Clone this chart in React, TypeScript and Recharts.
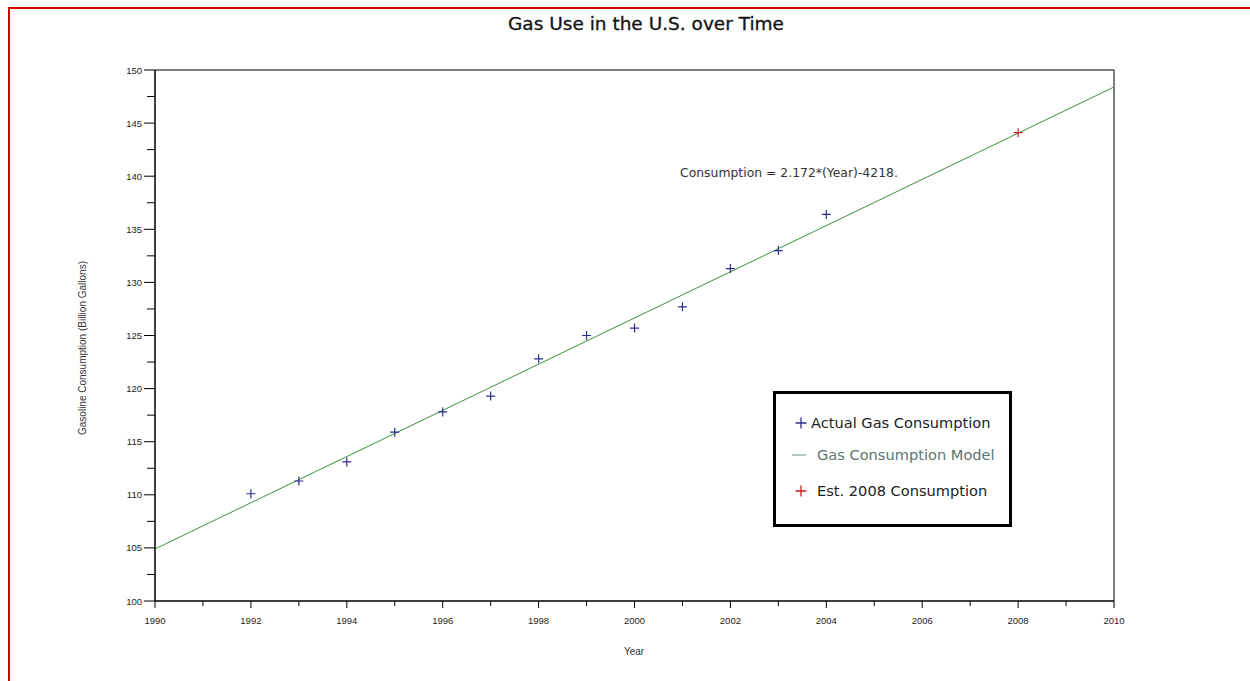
import React from 'react';
import {
  ComposedChart,
  Line,
  Scatter,
  XAxis,
  YAxis,
  ReferenceArea,
} from 'recharts';

// values
const years = [1992, 1993, 1994, 1995, 1996, 1997, 1998, 1999, 2000, 2001, 2002, 2003, 2004];
const consumption = [110.1, 111.3, 113.1, 115.9, 117.8, 119.3, 122.8, 125.0, 125.7, 127.7, 131.3, 133.0, 136.4];
const modelYears = [1990, 2010];
const modelValues = [104.9, 148.4];
const estYear = 2008;
const estValue = 144.1;

const xTicks = Array.from({ length: 21 }, (_, i) => 1990 + i);
const yTicks = Array.from({ length: 21 }, (_, i) => 100 + i * 2.5);

const actualData = years.map((y, i) => ({ year: y, value: consumption[i] }));
const modelData = modelYears.map((y, i) => ({ year: y, value: modelValues[i] }));
const estData = [{ year: estYear, value: estValue }];

const tickFont = '"Liberation Sans", Arial, sans-serif';
const mainFont = '"DejaVu Sans", sans-serif';

const Plus = (color: string) => (props: any) => {
  const { cx, cy } = props;
  if (cx == null || cy == null) return null;
  return (
    <path
      d={`M${cx - 4.5},${cy} H${cx + 4.5} M${cx},${cy - 4.5} V${cy + 4.5}`}
      stroke={color}
      strokeWidth={1.2}
      fill="none"
    />
  );
};

const XTick = (props: any) => {
  const { x, y, payload } = props;
  const major = payload.value % 2 === 0;
  return (
    <g>
      <line x1={x} x2={x} y1={y} y2={y + (major ? 7 : 5)} stroke="#000" strokeWidth={1} />
      {major && (
        <text x={x} y={y + 23} textAnchor="middle" fontSize={9.5} fontFamily={tickFont} fill="#222">
          {payload.value}
        </text>
      )}
    </g>
  );
};

const YTick = (props: any) => {
  const { x, y, payload } = props;
  const major = payload.value % 5 === 0;
  return (
    <g>
      <line x1={x - (major ? 11 : 8)} x2={x} y1={y} y2={y} stroke="#000" strokeWidth={1} />
      {major && (
        <text x={x - 13} y={y + 3.5} textAnchor="end" fontSize={9.5} fontFamily={tickFont} fill="#222">
          {payload.value}
        </text>
      )}
    </g>
  );
};

export default function App() {
  return (
    <div
      style={{
        position: 'fixed',
        left: 8,
        top: 7,
        width: 1260,
        height: 700,
        border: '2px solid #d40000',
        background: '#fff',
      }}
    >
      <div
        style={{
          position: 'absolute',
          left: 0,
          top: 4,
          width: 1272,
          textAlign: 'center',
          fontFamily: mainFont,
          fontSize: 18.5,
          color: '#111',
          WebkitTextStroke: '0.3px #111',
        }}
      >
        Gas Use in the U.S. over Time
      </div>

      <ComposedChart
        width={1240}
        height={680}
        margin={{ top: 61, right: 136, left: 0, bottom: 48 }}
      >
        <XAxis
          type="number"
          dataKey="year"
          domain={[1990, 2010]}
          ticks={xTicks}
          interval={0}
          allowDataOverflow
          tickSize={0}
          tickMargin={0}
          tickLine={false}
          tick={<XTick />}
          axisLine={{ stroke: '#000' }}
          height={40}
        />
        <YAxis
          type="number"
          dataKey="value"
          domain={[100, 150]}
          ticks={yTicks}
          interval={0}
          allowDataOverflow
          tickSize={0}
          tickMargin={0}
          tickLine={false}
          tick={<YTick />}
          axisLine={{ stroke: '#000' }}
          width={145}
        />
        <ReferenceArea x1={1990} x2={2010} y1={100} y2={150} fill="none" stroke="#000" strokeWidth={1} />
        <Line
          data={modelData}
          dataKey="value"
          stroke="#3f8f3f"
          strokeWidth={1}
          dot={false}
          activeDot={false}
          isAnimationActive={false}
        />
        <Scatter data={actualData} dataKey="value" shape={Plus('#2e2e8e')} isAnimationActive={false} />
        <Scatter data={estData} dataKey="value" shape={Plus('#c8202a')} isAnimationActive={false} />
      </ComposedChart>

      <div
        style={{
          position: 'absolute',
          left: 670,
          top: 156,
          fontFamily: mainFont,
          fontSize: 12.4,
          color: '#333',
          whiteSpace: 'nowrap',
        }}
      >
        Consumption = 2.172*(Year)-4218.
      </div>

      <div
        style={{
          position: 'absolute',
          left: 72,
          top: 339,
          width: 0,
          height: 0,
        }}
      >
        <div
          style={{
            position: 'absolute',
            transform: 'translate(-50%, -50%) rotate(-90deg)',
            fontFamily: tickFont,
            fontSize: 10,
            color: '#333',
            whiteSpace: 'nowrap',
          }}
        >
          Gasoline Consumption (Billion Gallons)
        </div>
      </div>

      <div
        style={{
          position: 'absolute',
          left: 604,
          top: 637,
          width: 40,
          textAlign: 'center',
          fontFamily: tickFont,
          fontSize: 10,
          color: '#333',
        }}
      >
        Year
      </div>

      <div
        style={{
          position: 'absolute',
          left: 763,
          top: 382,
          width: 233,
          height: 130,
          border: '3px solid #000',
          fontFamily: mainFont,
          fontSize: 14,
          color: '#222',
        }}
      >
        <svg width={233} height={130} style={{ position: 'absolute', left: 0, top: 0 }}>
          <path d="M19.5,29 H30.5 M25,23.5 V34.5" stroke="#2e2e8e" strokeWidth={1.3} />
          <line x1={16} x2={30} y1={61} y2={61} stroke="#6f8f7f" strokeWidth={1} />
          <path d="M19.5,97 H30.5 M25,91.5 V102.5" stroke="#c8202a" strokeWidth={1.3} />
          <text x={35} y={34} fontFamily={mainFont} fontSize={14.6} fill="#222">Actual Gas Consumption</text>
          <text x={41} y={66} fontFamily={mainFont} fontSize={14.6} fill="#5d7470">Gas Consumption Model</text>
          <text x={41} y={102} fontFamily={mainFont} fontSize={14.6} fill="#222">Est. 2008 Consumption</text>
        </svg>
      </div>
    </div>
  );
}
